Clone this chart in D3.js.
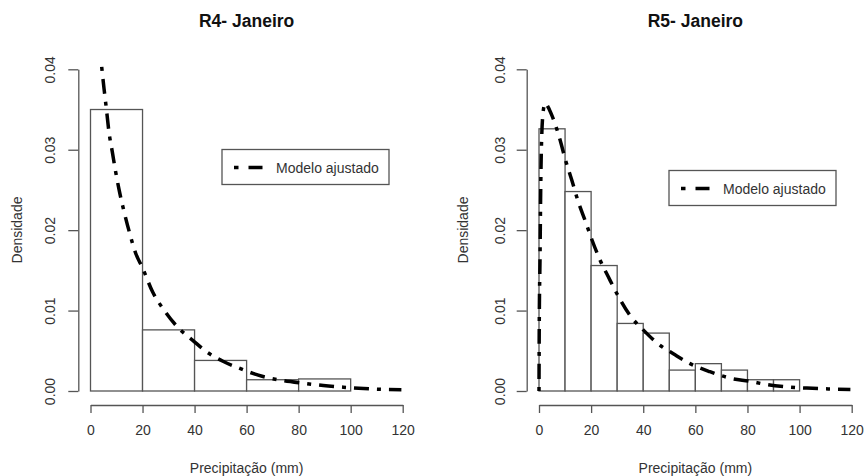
<!DOCTYPE html>
<html lang="pt">
<head>
<meta charset="UTF-8">
<title>Densidade de precipitação - Janeiro</title>
<script src="https://d3js.org/d3.v7.min.js"></script>
<style>
  body { margin: 0; background: #fff; }
  svg { display: block; font-family: "Liberation Sans", Arial, sans-serif; }
  .axis line, .axis path { stroke: #555; stroke-width: 1.3; }
  .axis text { fill: #333; font-size: 14px; }
  .bar { fill: #fff; stroke: #555; stroke-width: 1.3; }
  .curve { fill: none; stroke: #000; stroke-width: 3.5; stroke-dasharray: 4,8,15,8; }
  .title { font-size: 17.5px; font-weight: bold; fill: #111; }
  .label { font-size: 14px; fill: #333; }
</style>
</head>
<body>
<div id="chart"></div>
<script>
// histogram breaks and densities
const r4Breaks = [0, 20, 40, 60, 80, 100, 120];
const r4Density = [0.035, 0.0076, 0.0038, 0.0014, 0.0015, 0];
const r5Breaks = [0, 10, 20, 30, 40, 50, 60, 70, 80, 90, 100, 110, 120];
const r5Density = [0.0326, 0.0248, 0.0156, 0.0084, 0.0072, 0.0026, 0.0034, 0.0026, 0.0014, 0.0014, 0, 0];

// fitted model curves [x, density]
const r4Model = [[4.3, 0.0403], [5.2, 0.0376], [6.1, 0.0351], [7.1, 0.0322], [8.4, 0.0297], [9.7, 0.0272],
  [11, 0.025], [12.9, 0.0223], [14.9, 0.0198], [17.4, 0.0171], [20, 0.0153], [23.9, 0.0123], [28.4, 0.0100],
  [34.2, 0.0077], [39.3, 0.0063], [44.5, 0.0049], [50.9, 0.0037], [57.4, 0.0028], [66.3, 0.0018], [74.1, 0.0013],
  [81.8, 0.00097], [89.5, 0.00068], [97.2, 0.00047], [105, 0.00030], [112, 0.0002], [119.5, 0.00015]];
const r5Model = [[0, 0], [0.1, 0.0084], [0.4, 0.0167], [0.65, 0.025], [1.0, 0.0312], [1.7, 0.0350], [2.4, 0.0358],
  [3.5, 0.0353], [4.9, 0.0343], [6.5, 0.0329], [8.1, 0.0312], [10, 0.0289], [12.6, 0.0262], [15.1, 0.0235],
  [17.7, 0.0212], [20.2, 0.0189], [23.4, 0.0163], [26.6, 0.0142], [30.4, 0.0118], [34.9, 0.0094], [40, 0.0076],
  [45.2, 0.0060], [52.2, 0.0045], [58, 0.0034], [65.6, 0.0024], [73.3, 0.0016], [81, 0.0012], [87.4, 0.00080],
  [95.7, 0.00050], [102.8, 0.00036], [111, 0.00026], [119.5, 0.0002]];

const xTicks = [0, 20, 40, 60, 80, 100, 120];
const yTicks = [0, 0.01, 0.02, 0.03, 0.04];
const titles = ["R4- Janeiro", "R5- Janeiro"];
const xLabel = "Precipitação (mm)";
const yLabel = "Densidade";
const legendText = "Modelo ajustado";

const width = 865, height = 476;
const svg = d3.select("#chart").append("svg").attr("width", width).attr("height", height);

function drawPanel(opt) {
  const x = d3.scaleLinear().domain([0, 120]).range([opt.x0, opt.x1]);
  const y = d3.scaleLinear().domain([0, 0.04]).range([391, 69.3]);
  const g = svg.append("g");

  // bars
  const bins = opt.density.map((d, i) => ({ a: opt.breaks[i], b: opt.breaks[i + 1], d: d }));
  g.selectAll(".bar").data(bins).enter().append("rect")
    .attr("class", "bar")
    .attr("x", d => x(d.a))
    .attr("width", d => x(d.b) - x(d.a))
    .attr("y", d => y(d.d))
    .attr("height", d => y(0) - y(d.d));

  // axes, R style (detached)
  g.append("g").attr("class", "axis")
    .attr("transform", "translate(0,405)")
    .call(d3.axisBottom(x).tickValues(xTicks).tickSize(8).tickPadding(12).tickSizeOuter(0))
    .call(a => a.selectAll("text").attr("dy", "0.71em"));

  const ya = g.append("g").attr("class", "axis")
    .attr("transform", `translate(${opt.yAxis},0)`)
    .call(d3.axisLeft(y).tickValues(yTicks).tickFormat(d3.format(".2f")).tickSize(10).tickSizeOuter(0));
  // rotated tick labels, baseline relative to the axis line
  ya.selectAll("text")
    .attr("x", null).attr("dy", null)
    .attr("text-anchor", "middle")
    .attr("transform", `translate(${opt.yTickX - opt.yAxis},0) rotate(-90)`);

  // fitted curve
  g.append("path")
    .datum(opt.model)
    .attr("class", "curve")
    .attr("d", d3.line().x(d => x(d[0])).y(d => y(d[1])).curve(d3.curveMonotoneX));

  // title and labels
  const cx = (opt.x0 + opt.x1) / 2;
  g.append("text").attr("class", "title").attr("x", cx).attr("y", 26.5)
    .attr("text-anchor", "middle").text(opt.title);
  g.append("text").attr("class", "label").attr("x", cx).attr("y", 473)
    .attr("text-anchor", "middle").text(xLabel);
  g.append("text").attr("class", "label")
    .attr("transform", `translate(${opt.yLabelX},230) rotate(-90)`)
    .attr("text-anchor", "middle").text(yLabel);

  // legend
  const lg = g.append("g").attr("transform", `translate(${opt.legend[0]},${opt.legend[1]})`);
  lg.append("rect").attr("width", 167).attr("height", 35)
    .attr("fill", "#fff").attr("stroke", "#555").attr("stroke-width", 1.3);
  lg.append("line").attr("class", "curve")
    .attr("x1", 12).attr("x2", 44).attr("y1", 18).attr("y2", 18)
    .style("stroke-dasharray", "4.5,10,14,10");
  lg.append("text").attr("class", "label").attr("x", 54).attr("y", 23).text(legendText);
}

drawPanel({ x0: 90.5, x1: 402.7, yAxis: 78.3, yTickX: 55, yLabelX: 22, title: titles[0],
  breaks: r4Breaks, density: r4Density, model: r4Model, legend: [222, 149.5] });
drawPanel({ x0: 539, x1: 851.7, yAxis: 526.7, yTickX: 505, yLabelX: 467.5, title: titles[1],
  breaks: r5Breaks, density: r5Density, model: r5Model, legend: [669, 170.5] });
</script>
</body>
</html>
